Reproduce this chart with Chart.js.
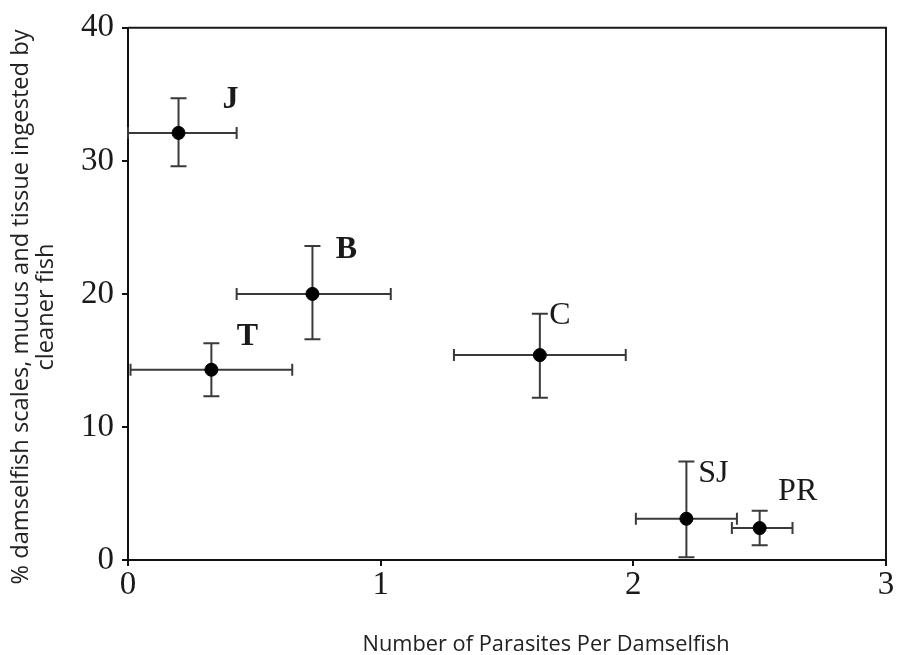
<!DOCTYPE html>
<html>
<head>
<meta charset="utf-8">
<script src="https://cdn.jsdelivr.net/npm/chart.js@4"></script>
<style>
  html, body { margin: 0; padding: 0; background: #fff; }
  #wrap { width: 901px; height: 655px; position: relative; }
</style>
</head>
<body>
<div id="wrap"><canvas id="fish-chart"></canvas></div>
<script>
// site data
var sites = ['J', 'B', 'T', 'C', 'SJ', 'PR'];
var parasites = [0.20, 0.73, 0.33, 1.63, 2.21, 2.50];
var parasitesLow = [0.00, 0.43, 0.01, 1.29, 2.01, 2.39];
var parasitesHigh = [0.43, 1.04, 0.65, 1.97, 2.41, 2.63];
var ingested = [32.1, 20.0, 14.3, 15.4, 3.1, 2.4];
var ingestedLow = [29.6, 16.6, 12.3, 12.2, 0.2, 1.1];
var ingestedHigh = [34.7, 23.6, 16.3, 18.5, 7.4, 3.7];
var xTicks = [0, 1, 2, 3];
var yTicks = [0, 10, 20, 30, 40];

// label placement relative to each point (px)
var labelOffsets = {
    J: [52, -33], B: [34, -44], T: [36, -33],
    C: [20, -40], SJ: [27, -45], PR: [38, -36]
};
var boldLabels = ['J', 'B', 'T'];

var points = sites.map(function (s, i) {
    return { x: parasites[i], y: ingested[i] };
});

var serif = '"Liberation Serif", "Times New Roman", serif';
var sans = '"Open Sans", "Liberation Sans", sans-serif';

// squeeze / stretch a text so it covers a given width
function fitText(c, text, x, y, width) {
    var w = c.measureText(text).width;
    c.save();
    c.translate(x, y);
    c.scale(width / w, 1);
    c.fillText(text, 0, 0);
    c.restore();
}

// draws error bars, frame, point labels and axis titles
var extras = {
    id: 'extras',
    beforeDatasetsDraw: function (chart) {
        var c = chart.ctx, xs = chart.scales.x, ys = chart.scales.y;
        c.save();
        c.strokeStyle = '#3a3a3a';
        c.lineWidth = 2;
        sites.forEach(function (s, i) {
            var px = xs.getPixelForValue(parasites[i]);
            var py = ys.getPixelForValue(ingested[i]);
            var xl = xs.getPixelForValue(parasitesLow[i]);
            var xh = xs.getPixelForValue(parasitesHigh[i]);
            var yl = ys.getPixelForValue(ingestedLow[i]);
            var yh = ys.getPixelForValue(ingestedHigh[i]);
            c.beginPath();
            // horizontal bar + caps
            c.moveTo(xl, py); c.lineTo(xh, py);
            c.moveTo(xl, py - 6); c.lineTo(xl, py + 6);
            c.moveTo(xh, py - 6); c.lineTo(xh, py + 6);
            // vertical bar + caps
            c.moveTo(px, yl); c.lineTo(px, yh);
            c.moveTo(px - 8, yl); c.lineTo(px + 8, yl);
            c.moveTo(px - 8, yh); c.lineTo(px + 8, yh);
            c.stroke();
        });
        c.restore();
    },
    afterDraw: function (chart) {
        var c = chart.ctx, a = chart.chartArea;
        var xs = chart.scales.x, ys = chart.scales.y;
        c.save();
        // top and right frame
        c.strokeStyle = '#1a1a1a';
        c.lineWidth = 2;
        c.beginPath();
        c.moveTo(a.left, a.top); c.lineTo(a.right, a.top); c.lineTo(a.right, a.bottom);
        c.stroke();

        // point labels
        c.fillStyle = '#1a1a1a';
        c.textAlign = 'center';
        c.textBaseline = 'middle';
        sites.forEach(function (s, i) {
            var off = labelOffsets[s];
            var bold = boldLabels.indexOf(s) >= 0;
            c.font = (bold ? 'bold ' : '') + '32px ' + serif;
            c.fillText(s, xs.getPixelForValue(parasites[i]) + off[0],
                ys.getPixelForValue(ingested[i]) + off[1]);
        });

        // axis titles
        c.fillStyle = '#222';
        c.font = '21px ' + sans;
        fitText(c, 'Number of Parasites Per Damselfish', 546, 645, 367);

        c.font = '23px ' + sans;
        var l1 = '% damselfish scales, mucus and tissue ingested by';
        var l2 = 'cleaner fish';
        var k = 555 / c.measureText(l1).width;
        c.translate(33.5, 307);
        c.rotate(-Math.PI / 2);
        fitText(c, l1, 0, -12.5, 555);
        fitText(c, l2, 0, 12.5, c.measureText(l2).width * k);
        c.restore();
    }
};

var ctx = document.getElementById('fish-chart').getContext('2d');
var chart = new Chart(ctx, {
    type: 'scatter',
    data: {
        labels: sites,
        datasets: [{
            data: points,
            backgroundColor: '#000',
            borderColor: '#000',
            pointRadius: 6.5,
            pointHoverRadius: 6.5
        }]
    },
    options: {
        responsive: true,
        maintainAspectRatio: false,
        animation: false,
        layout: { padding: { left: 0, right: 15, top: 27, bottom: 0 } },
        plugins: {
            legend: { display: false },
            tooltip: { enabled: false }
        },
        scales: {
            x: {
                type: 'linear',
                min: xTicks[0],
                max: xTicks[xTicks.length - 1],
                afterBuildTicks: function (scale) {
                    scale.ticks = xTicks.map(function (v) { return { value: v }; });
                },
                afterFit: function (scale) { scale.height = 95; },
                border: { display: true, color: '#111', width: 2 },
                grid: { drawOnChartArea: false, drawTicks: true, tickLength: 6, color: '#111', lineWidth: 2 },
                ticks: {
                    color: '#1a1a1a',
                    padding: 0,
                    font: { family: serif, size: 33 }
                }
            },
            y: {
                type: 'linear',
                min: yTicks[0],
                max: yTicks[yTicks.length - 1],
                afterBuildTicks: function (scale) {
                    scale.ticks = yTicks.map(function (v) { return { value: v }; });
                },
                afterFit: function (scale) { scale.width = 128; },
                border: { display: true, color: '#111', width: 2 },
                grid: { drawOnChartArea: false, drawTicks: true, tickLength: 6, color: '#111', lineWidth: 2 },
                ticks: {
                    color: '#1a1a1a',
                    padding: 8,
                    font: { family: serif, size: 33 }
                }
            }
        }
    },
    plugins: [extras]
});
</script>
</body>
</html>
